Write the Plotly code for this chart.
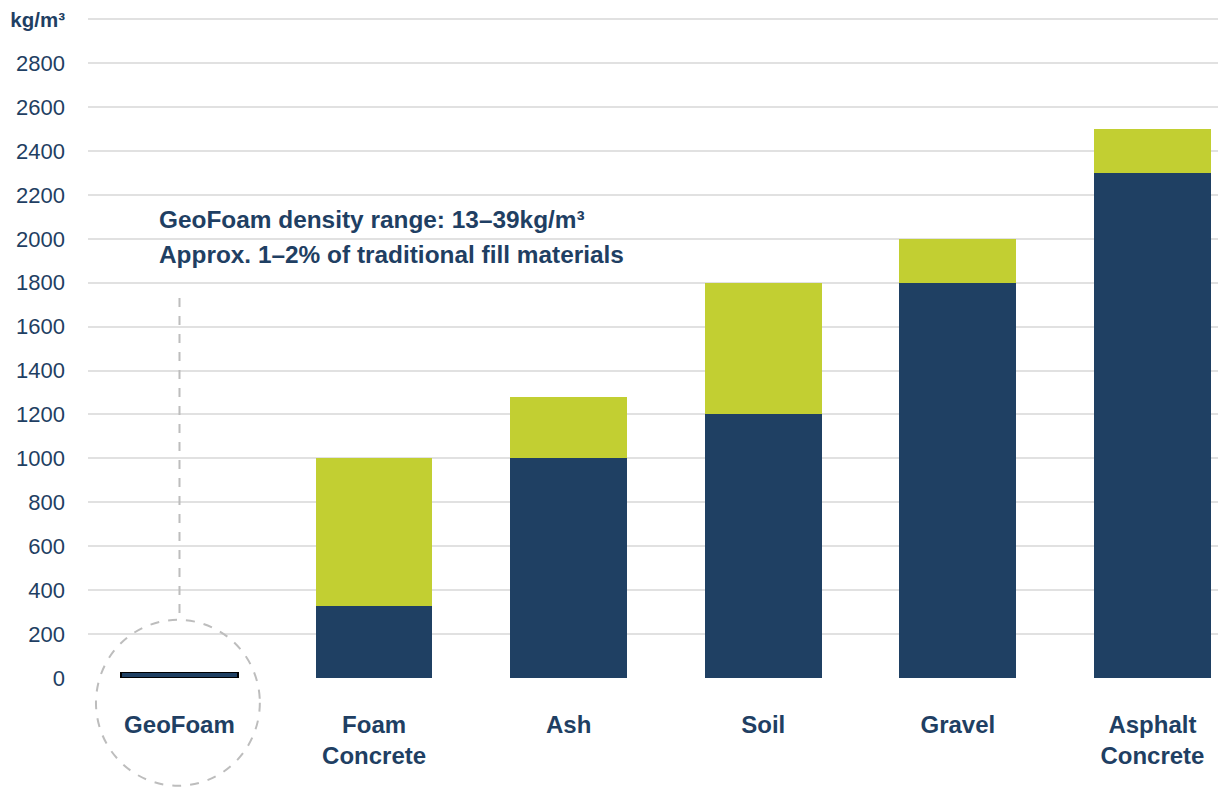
import plotly.graph_objects as go

categories = ["GeoFoam", "Foam<br>Concrete", "Ash", "Soil", "Gravel", "Asphalt<br>Concrete"]
density_low = [26, 330, 1000, 1200, 1800, 2300]
density_extra = [0, 670, 280, 600, 200, 200]
tick_values = [0, 200, 400, 600, 800, 1000, 1200, 1400, 1600, 1800, 2000, 2200, 2400, 2600, 2800, 3000]
tick_labels = ["0", "200", "400", "600", "800", "1000", "1200", "1400", "1600", "1800",
               "2000", "2200", "2400", "2600", "2800",
               "<b><span style='font-size:20.5px'>kg/m³</span></b>"]
note_lines = ["GeoFoam density range: 13–39kg/m³", "Approx. 1–2% of traditional fill materials"]

DARK = "#1f4063"
GREEN = "#c2cf32"
TEXT = "#1f3f63"
FONT = "Liberation Sans, Arial, sans-serif"

fig = go.Figure()
fig.add_trace(go.Bar(
    x=categories, y=density_low, marker_color=DARK,
    marker_line_color=["#000000"] + [DARK] * 5,
    marker_line_width=[1.5, 0, 0, 0, 0, 0],
    width=0.6, showlegend=False, hoverinfo="skip"))
fig.add_trace(go.Bar(
    x=categories, y=density_extra, marker_color=GREEN, marker_line_width=0,
    width=0.6, showlegend=False, hoverinfo="skip"))

fig.update_layout(
    barmode="stack",
    width=1218, height=779,
    margin=dict(l=80, r=0, t=9, b=109),
    paper_bgcolor="white", plot_bgcolor="white",
    font=dict(family=FONT, color=TEXT),
    xaxis=dict(range=[-0.47, 5.378], showgrid=False, zeroline=False, showline=False,
               ticks="", tickfont=dict(size=24, color=TEXT, family=FONT),
               ticklabelstandoff=30, tickprefix="<b>", ticksuffix="</b>",
               automargin=False),
    yaxis=dict(range=[0, 3010], tickvals=tick_values, ticktext=tick_labels,
               showgrid=True, gridcolor="#e1e1e1", gridwidth=1.5,
               zeroline=False, showline=False, ticks="",
               tickfont=dict(size=22, color=TEXT, family=FONT),
               ticklabelstandoff=22, automargin=False,
               ticklabeloverflow="allow"),
)

# white box behind the note, dashed pointer and circle
fig.add_shape(type="rect", xref="x domain", yref="paper",
              x0=0.0439, x1=0.4921, y0=0.613, y1=0.727,
              fillcolor="white", line_width=0, layer="below")
fig.add_shape(type="line", xref="x domain", yref="paper",
              x0=0.0804, x1=0.0804, y0=0.575, y1=0.088,
              line=dict(color="#bdbdbd", width=2, dash="dash"))
fig.add_shape(type="circle", xref="x domain", yref="paper",
              x0=0.007, x1=0.151, y0=0.088, y1=-0.163,
              line=dict(color="#bdbdbd", width=2, dash="dash"))

for i, (line, yy) in enumerate(zip(note_lines, [0.6944, 0.6414])):
    fig.add_annotation(text="<b>" + line + "</b>", xref="x domain", yref="paper",
                       x=0.0610, y=yy, xanchor="left", yanchor="middle",
                       showarrow=False, font=dict(size=24.4, color=TEXT, family=FONT))

fig.write_html("out.html")
